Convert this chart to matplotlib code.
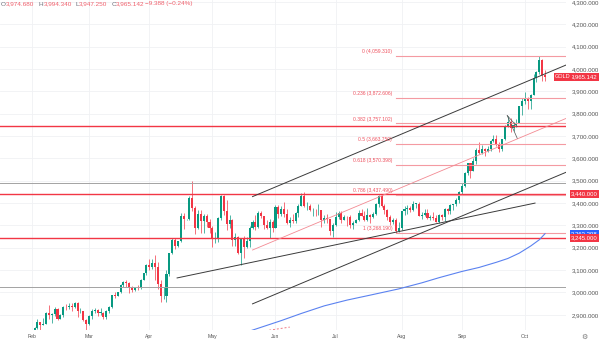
import matplotlib
matplotlib.use('Agg')
import matplotlib.pyplot as plt
import matplotlib.transforms as mtransforms
import numpy as np

plt.rcParams['font.family'] = ['Liberation Sans', 'DejaVu Sans']

####################Data############################
months = ['Feb', 'Mar', 'Apr', 'May', 'Jun', 'Jul', 'Aug', 'Sep', 'Oct']
month_start = [0, 20, 41, 63, 85, 106, 129, 150, 172]   # bar index of first bar in month

opens = [
    # Feb
    2800, 2815, 2843, 2867, 2856, 2861, 2908, 2898, 2904, 2928, 2882, 2898, 2935, 2933, 2940, 2936, 2951, 2915, 2916, 2876,
    # Mar
    2858, 2893, 2918, 2920, 2910, 2910, 2889, 2917, 2934, 2989, 2984, 3001, 3034, 3048, 3044, 3022, 3011, 3020, 3019, 3056, 3085,
    # Apr
    3123, 3113, 3133, 3114, 3037, 2982, 2983, 3082, 3175, 3237, 3210, 3229, 3342, 3327, 3327, 3424, 3380, 3288, 3349, 3319, 3344, 3317,
    # May
    3288, 3238, 3240, 3334, 3430, 3366, 3306, 3325, 3236, 3249, 3177, 3240, 3202, 3230, 3290, 3314, 3295, 3357, 3342, 3301, 3288, 3317,
    # Jun
    3289, 3381, 3353, 3373, 3353, 3310, 3326, 3322, 3354, 3386, 3433, 3385, 3388, 3369, 3370, 3368, 3369, 3323, 3332, 3327, 3273,
    # Jul
    3303, 3338, 3357, 3326, 3337, 3336, 3302, 3313, 3324, 3355, 3343, 3324, 3347, 3338, 3350, 3397, 3431, 3388, 3368, 3337, 3314, 3326, 3275,
    # Aug
    3289, 3363, 3373, 3380, 3369, 3397, 3398, 3341, 3348, 3356, 3335, 3336, 3332, 3315, 3348, 3339, 3372, 3366, 3393, 3397, 3416,
    # Sep
    3448, 3476, 3533, 3578, 3545, 3587, 3636, 3625, 3640, 3634, 3643, 3679, 3689, 3659, 3643, 3685, 3746, 3763, 3736, 3749, 3760, 3833,
    # Oct
    3859, 3866, 3857, 3886, 3961, 3985, 4041, 3974.68,
]
highs = [
    2830, 2845, 2882, 2869, 2887, 2911, 2942, 2910, 2933, 2932, 2902, 2938, 2947, 2954, 2952, 2956, 2956, 2929, 2918, 2880,
    2898, 2927, 2930, 2925, 2930, 2914, 2921, 2940, 2990, 3004, 3002, 3038, 3051, 3057, 3047, 3030, 3025, 3033, 3060, 3087, 3128,
    3149, 3149, 3167, 3136, 3055, 3023, 3099, 3175, 3245, 3245, 3232, 3357, 3357, 3330, 3430, 3500, 3386, 3367, 3371, 3350, 3353, 3328,
    3298, 3269, 3336, 3438, 3435, 3414, 3345, 3327, 3265, 3252, 3245, 3252, 3250, 3296, 3325, 3345, 3366, 3364, 3343, 3325, 3330, 3326,
    3392, 3392, 3385, 3403, 3375, 3338, 3349, 3360, 3398, 3446, 3451, 3404, 3396, 3378, 3375, 3398, 3370, 3347, 3350, 3329, 3310,
    3358, 3365, 3365, 3345, 3344, 3345, 3318, 3330, 3369, 3375, 3366, 3377, 3352, 3361, 3402, 3434, 3439, 3394, 3373, 3345, 3334, 3334, 3315,
    3363, 3385, 3390, 3385, 3409, 3400, 3405, 3358, 3375, 3374, 3346, 3358, 3345, 3350, 3351, 3378, 3376, 3394, 3398, 3423, 3454,
    3489, 3540, 3578, 3578, 3600, 3647, 3674, 3658, 3645, 3655, 3684, 3703, 3707, 3674, 3686, 3750, 3791, 3779, 3761, 3775, 3835, 3871,
    3895, 3875, 3889, 3977, 3991, 4059, 4046, 3994.34,
]
lows = [
    2772, 2809, 2835, 2834, 2853, 2860, 2880, 2864, 2894, 2877, 2880, 2892, 2922, 2928, 2919, 2930, 2890, 2906, 2874, 2832,
    2855, 2880, 2906, 2894, 2897, 2880, 2881, 2906, 2932, 2977, 2982, 2999, 3025, 3023, 2999, 3001, 3008, 3012, 3015, 3055, 3076,
    3101, 3105, 3054, 3015, 2956, 2970, 2957, 3072, 3174, 3193, 3205, 3228, 3283, 3323, 3325, 3366, 3260, 3284, 3265, 3268, 3291, 3268,
    3202, 3222, 3228, 3324, 3345, 3280, 3290, 3207, 3210, 3171, 3121, 3154, 3200, 3205, 3284, 3278, 3287, 3332, 3286, 3284, 3245, 3271,
    3288, 3333, 3344, 3339, 3307, 3293, 3309, 3310, 3339, 3386, 3384, 3367, 3363, 3340, 3340, 3348, 3295, 3312, 3310, 3255, 3247,
    3297, 3328, 3311, 3324, 3296, 3287, 3283, 3309, 3322, 3341, 3320, 3319, 3310, 3333, 3345, 3383, 3381, 3352, 3325, 3302, 3308, 3268, 3271,
    3281, 3345, 3353, 3359, 3366, 3378, 3341, 3331, 3342, 3330, 3324, 3323, 3315, 3311, 3324, 3321, 3351, 3351, 3370, 3386, 3400,
    3436, 3471, 3525, 3511, 3542, 3577, 3620, 3620, 3612, 3630, 3635, 3673, 3655, 3629, 3634, 3683, 3739, 3717, 3722, 3742, 3759, 3793,
    3843, 3820, 3823, 3885, 3942, 3980, 3945, 3947.25,
]
closes = [
    2815, 2843, 2867, 2856, 2861, 2908, 2898, 2904, 2928, 2882, 2898, 2935, 2933, 2940, 2936, 2951, 2915, 2916, 2876, 2858,
    2893, 2918, 2920, 2910, 2910, 2889, 2917, 2934, 2989, 2984, 3001, 3034, 3048, 3044, 3022, 3011, 3020, 3019, 3056, 3085, 3123,
    3113, 3133, 3114, 3037, 2982, 2983, 3082, 3175, 3237, 3210, 3229, 3342, 3327, 3327, 3424, 3380, 3288, 3349, 3319, 3344, 3317, 3288,
    3238, 3240, 3334, 3430, 3366, 3306, 3325, 3236, 3249, 3177, 3240, 3202, 3230, 3290, 3314, 3295, 3357, 3342, 3301, 3288, 3317, 3289,
    3381, 3353, 3373, 3353, 3310, 3326, 3322, 3354, 3386, 3433, 3385, 3388, 3369, 3370, 3368, 3369, 3323, 3332, 3327, 3273, 3303,
    3338, 3357, 3326, 3337, 3336, 3302, 3313, 3324, 3355, 3343, 3324, 3347, 3338, 3350, 3397, 3431, 3388, 3368, 3337, 3314, 3326, 3275, 3289,
    3363, 3373, 3380, 3369, 3397, 3398, 3341, 3348, 3356, 3335, 3336, 3332, 3315, 3348, 3339, 3372, 3366, 3393, 3397, 3416, 3448,
    3476, 3533, 3578, 3545, 3587, 3636, 3625, 3640, 3634, 3643, 3679, 3689, 3659, 3643, 3685, 3746, 3763, 3736, 3749, 3760, 3833, 3859,
    3866, 3857, 3886, 3961, 3985, 4041, 3974.53, 3965.142,
]

# moving average (blue), read at a few bars
ma_idx = [75, 87, 94, 102, 110, 118, 128, 136, 142, 150, 156, 162, 166, 170, 174, 177, 179]
ma_val = [2823, 2874, 2906, 2940, 2966, 2988, 3016, 3043, 3066, 3094, 3112, 3135, 3152, 3176, 3208, 3236, 3263.298]

# fibonacci retracement
fib_ratio = ['0', '0.236', '0.382', '0.5', '0.618', '0.786', '1']
fib_price = [4059.310, 3872.606, 3757.102, 3663.750, 3570.398, 3437.490, 3268.190]
fib_start = 127

# horizontal levels
red_levels = [3745, 3440, 3245]
grey_levels = [3492, 3024]

# trend lines (bar index, price)
chan_x = [77, 188]
chan_upper = [3429, 4027]
chan_mid = [3190, 3788]
chan_lower = [2949, 3547]
trend_x = [50.7, 175.5]
trend_y = [3065, 3400]
flag_a = ([165.8, 169.3], [3792, 3742])
flag_b = ([165.8, 169.3], [3792, 3690])
dash_x = [82.8, 90]
dash_y = [2831, 2845]

# header
legend_parts = [('O', 'k'), ('3,974.680', 'r'), ('H', 'k'), ('3,994.340', 'r'), ('L', 'k'),
                ('3,947.250', 'r'), ('C', 'k'), ('3,965.142', 'r'), ('\u22129.388 (\u22120.24%)', 'r')]

##########################Plotting###########################
UP = '#089981'
DN = '#f23645'
TXT = '#555555'

fig = plt.figure(figsize=(6, 3.44), dpi=100)
ax = fig.add_axes([0, 14/344, 566/600, 330/344])

o = np.array(opens); h = np.array(highs); l = np.array(lows); c = np.array(closes)
x = np.arange(len(c))
col = np.where(c >= o, UP, DN)

ax.vlines(x, l, h, colors=col, lw=0.5, zorder=2)
ax.bar(x, np.maximum(np.abs(c - o), 1.2), bottom=np.minimum(o, c), width=0.72,
       color=col, linewidth=0, zorder=2)

# horizontal lines
for lv in red_levels:
    ax.axhline(lv, color=DN, lw=1.0, zorder=3)
for lv in grey_levels:
    ax.axhline(lv, color='#a3a3a3', lw=0.7, zorder=3)

# fib
for r, p in zip(fib_ratio, fib_price):
    ax.plot([fib_start, 200], [p, p], color='#f49aa2', lw=0.8, zorder=3)
    ax.text(fib_start - 1.3, p + 8, f'{r} ({p:,.3f})', color='#ef5360', fontsize=3.6,
            ha='right', va='bottom', zorder=4)

# channel & trend lines
ax.plot(chan_x, chan_upper, color='#3a3a3a', lw=0.7, zorder=3)
ax.plot(chan_x, chan_lower, color='#3a3a3a', lw=0.7, zorder=3)
ax.plot(chan_x, chan_mid, color='#f38a93', lw=0.6, zorder=3)
ax.plot(trend_x, trend_y, color='#3a3a3a', lw=0.7, zorder=3)
ax.plot(*flag_a, color='#555555', lw=0.5, zorder=3)
ax.plot(*flag_b, color='#555555', lw=0.5, zorder=3)
ax.plot(dash_x, dash_y, color='#f07a84', lw=0.7, ls=(0, (2, 2)), zorder=3)

# MA
ax.plot(ma_idx, ma_val, color='#5b82f0', lw=0.8, zorder=3)

# axes
ax.set_xlim(-11.05, 186.3)
ax.set_ylim(2832, 4309)
ax.set_xticks(month_start)
ax.set_xticklabels(months)
ax.set_yticks(np.arange(2900, 4301, 100))
ax.set_yticklabels([f'{v:,.3f}' for v in np.arange(2900, 4301, 100)])
ax.yaxis.tick_right()
ax.tick_params(axis='y', length=0, pad=4, labelsize=4.4, labelcolor=TXT)
ax.tick_params(axis='x', length=0, pad=3, labelsize=3.7, labelcolor=TXT)
ax.grid(True, color='#f0f1f4', lw=0.6, zorder=0)
for s in ax.spines.values():
    s.set_visible(False)

# price boxes on right scale
trans = mtransforms.blended_transform_factory(fig.transFigure, ax.transData)
def price_box(val, fc, txt=None):
    ax.text(571/600, val, txt or f'{val:,.3f}', transform=trans, fontsize=4.3, color='white',
            ha='left', va='center', zorder=6, clip_on=False,
            bbox=dict(boxstyle='square,pad=0.25', fc=fc, ec='none'))

price_box(3440.0, DN)
price_box(3263.298, '#2962ff')
price_box(3245.0, DN)
price_box(closes[-1], DN)
ax.text(555/600, closes[-1], 'GOLD', transform=trans, fontsize=4.0, color='white',
        ha='left', va='center', zorder=6, clip_on=False,
        bbox=dict(boxstyle='square,pad=0.25', fc=DN, ec='none'))

# OHLC header, pieces chained left to right
prev = None
for s, kind in legend_parts:
    cl = '#6a6d78' if kind == 'k' else '#f0616d'
    gap = 0.3 if kind == 'r' else 2.6
    if prev is None:
        prev = fig.text(1/600, 1 - 4/344, s, color=cl, fontsize=4.6, ha='left', va='center')
    else:
        prev = ax.annotate(s, xy=(1, 0), xycoords=prev, xytext=(gap, 0), textcoords='offset points',
                           color=cl, fontsize=4.6, ha='left', va='bottom', annotation_clip=False)

# settings icon
fig.text(584/600, 1 - 337/344, '\u2699', color='#777777', fontsize=5, ha='center', va='center')

fig.savefig('out.png', dpi=100)
